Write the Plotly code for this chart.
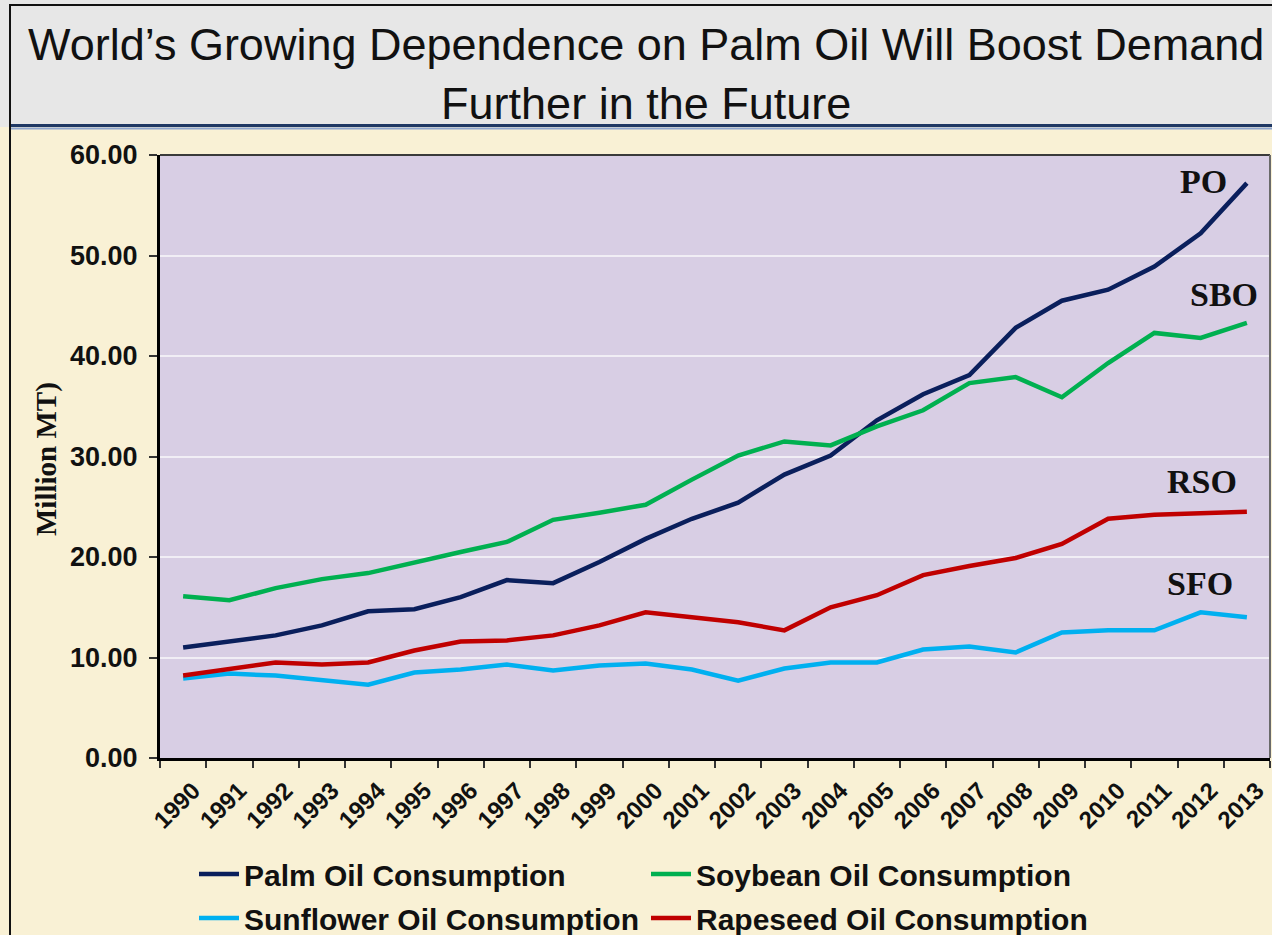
import plotly.graph_objects as go

years = [str(y) for y in range(1990, 2014)]
palm = [11.0, 11.6, 12.2, 13.2, 14.6, 14.8, 16.0, 17.7, 17.4, 19.5, 21.8, 23.8,
        25.4, 28.2, 30.1, 33.6, 36.2, 38.1, 42.8, 45.5, 46.6, 48.9, 52.2, 57.2]
soy = [16.1, 15.7, 16.9, 17.8, 18.4, 19.5, 20.5, 21.5, 23.7, 24.4, 25.2, 27.7,
       30.1, 31.5, 31.1, 33.0, 34.6, 37.3, 37.9, 35.9, 39.3, 42.3, 41.8, 43.3]
sunflower = [7.9, 8.4, 8.2, 7.7, 7.3, 8.5, 8.8, 9.3, 8.7, 9.2, 9.4, 8.8,
             7.7, 8.9, 9.5, 9.5, 10.8, 11.1, 10.5, 12.5, 12.7, 12.7, 14.5, 14.0]
rapeseed = [8.2, 8.9, 9.5, 9.3, 9.5, 10.7, 11.6, 11.7, 12.2, 13.2, 14.5, 14.0,
            13.5, 12.7, 15.0, 16.2, 18.2, 19.1, 19.9, 21.3, 23.8, 24.2, 24.3, 24.5]

series_names = ["Palm Oil Consumption", "Soybean Oil Consumption",
                "Sunflower Oil Consumption", "Rapeseed Oil Consumption"]
series_colors = ["#0a1f5c", "#00b050", "#00b0f0", "#c00000"]
series_values = [palm, soy, sunflower, rapeseed]
series_legend = ["legend", "legend", "legend2", "legend2"]

labels = ["PO", "SBO", "RSO", "SFO"]
label_x = [22.07, 22.5, 22.02, 21.98]
label_y = [57.4, 46.1, 27.5, 17.4]

W, H = 1272, 935
L, R, T, B = 160, 2, 155, 177
PW = W - L - R
PH = H - T - B


def px(xp):
    return (xp - L) / PW


def py(yp):
    return (H - B - yp) / PH


fig = go.Figure()
for name, color, vals, lg in zip(series_names, series_colors, series_values, series_legend):
    fig.add_trace(go.Scatter(x=years, y=vals, name=name, mode="lines", legend=lg,
                             line=dict(color=color, width=4.5)))

for t, xv, yv in zip(labels, label_x, label_y):
    fig.add_annotation(x=xv, y=yv, xref="x", yref="y", text="<b>" + t + "</b>",
                       showarrow=False,
                       font=dict(family="Liberation Serif", size=34, color="#111111"))

# Title
fig.add_annotation(x=px(646), y=py(74), xref="paper", yref="paper",
                   text="World’s Growing Dependence on Palm Oil Will Boost Demand<br>Further in the Future",
                   showarrow=False, xanchor="center", yanchor="middle",
                   font=dict(family="Arial", size=45, color="#111111"))
# Y title
fig.add_annotation(x=px(47), y=py(459), xref="paper", yref="paper",
                   xanchor="center", yanchor="middle",
                   text="<b>Million MT)</b>", textangle=-90, showarrow=False,
                   font=dict(family="Liberation Serif", size=29, color="#111111"))

shapes = [
    dict(type="rect", xref="paper", yref="paper", x0=px(0), x1=px(W), y0=py(127), y1=py(0),
         fillcolor="#e7e7e7", line=dict(width=0), layer="below"),
    dict(type="line", xref="paper", yref="paper", x0=px(10), x1=px(W), y0=py(125.5), y1=py(125.5),
         line=dict(color="#1f3864", width=3)),
    dict(type="line", xref="paper", yref="paper", x0=px(10), x1=px(W), y0=py(128.5), y1=py(128.5),
         line=dict(color="#8fa6cf", width=2)),
    dict(type="line", xref="paper", yref="paper", x0=px(10), x1=px(W), y0=py(5), y1=py(5),
         line=dict(color="#111111", width=2)),
    dict(type="line", xref="paper", yref="paper", x0=px(10), x1=px(10), y0=py(4), y1=py(H),
         line=dict(color="#111111", width=2)),
    dict(type="line", xref="paper", yref="paper", x0=0, x1=1, y0=1, y1=1,
         line=dict(color="#3a3a3a", width=2)),
    dict(type="line", xref="paper", yref="paper", x0=1, x1=1, y0=0, y1=1,
         line=dict(color="#6a6a6a", width=2)),
]

legend_common = dict(orientation="h", xanchor="left", yanchor="middle",
                     entrywidth=397, entrywidthmode="pixels",
                     font=dict(family="Arial", size=30, color="#111111", weight="bold"),
                     bgcolor="rgba(0,0,0,0)", itemwidth=40)

fig.update_layout(
    width=W, height=H,
    margin=dict(l=L, r=R, t=T, b=B, autoexpand=False),
    paper_bgcolor="#f9f1d5",
    plot_bgcolor="#d8cee4",
    shapes=shapes,
    showlegend=True,
    legend=dict(x=px(194), y=py(874), **legend_common),
    legend2=dict(x=px(194), y=py(918), **legend_common),
    xaxis=dict(type="category", showline=True, linecolor="#000000", linewidth=3,
               ticks="outside", tickson="boundaries", ticklen=7, tickwidth=2,
               tickcolor="#333333", tickangle=-45, showgrid=False, automargin=False,
               tickfont=dict(family="Arial", size=24, color="#111111", weight="bold"),
               ticklabelstandoff=6, ticklabelshift=10, range=[-0.5, 23.5]),
    yaxis=dict(range=[0, 60], dtick=10, tickformat=".2f", showline=True,
               linecolor="#000000", linewidth=3, ticks="outside", ticklen=8,
               tickwidth=2, tickcolor="#333333", gridcolor="#f1eef5", gridwidth=2,
               zeroline=False, ticklabelstandoff=6, automargin=False,
               tickfont=dict(family="Arial", size=27, color="#111111", weight="bold")),
)

fig.write_html("out.html", config={"displayModeBar": False},
               post_script="document.body.style.margin='0';document.body.style.overflow='hidden';")
